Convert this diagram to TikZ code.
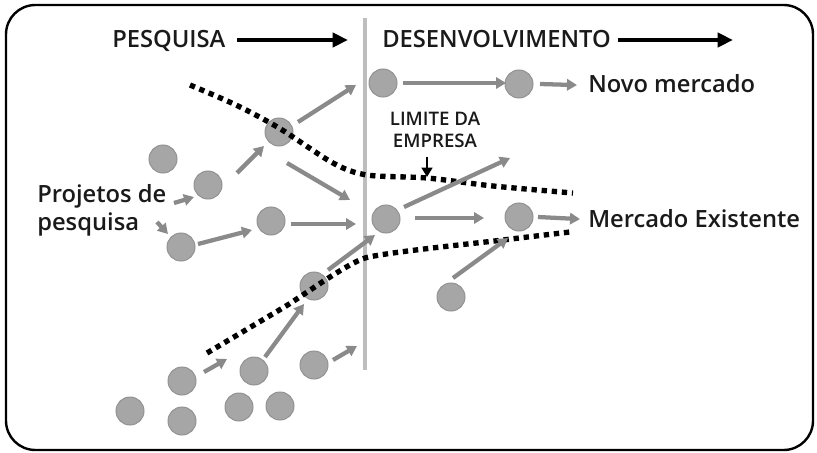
\documentclass[tikz,border=0pt]{standalone}
\usepackage{fontspec}
\setmainfont{Open Sans}
\IfFontExistsTF{Open Sans SemiBold}{\newfontfamily\sbf{Open Sans SemiBold}}{%
  \IfFontExistsTF{Open Sans Semibold}{\newfontfamily\sbf{Open Sans Semibold}}{%
    \newcommand\sbf{\bfseries}}}
\usetikzlibrary{arrows.meta,calc}
\definecolor{cfill}{HTML}{A6A6A6}
\definecolor{cdraw}{HTML}{929292}
\definecolor{garr}{HTML}{8A8A8A}
\definecolor{vline}{HTML}{BDBDBD}
\definecolor{txt}{HTML}{1A1A1A}
\begin{document}
\begin{tikzpicture}[x=0.75pt,y=-0.75pt,
  dot/.style={circle,fill=cfill,draw=cdraw,line width=0.75pt,minimum size=21pt,inner sep=0pt},
  garrow/.style={draw=garr,line width=3.2pt,-{Triangle[length=7.5pt,width=8.5pt]}},
  harrow/.style={draw=black,line width=3pt,-{Triangle[length=11.5pt,width=10.5pt]}},
  limit/.style={draw=black,line width=4pt,dash pattern=on 4pt off 3.6pt},
  bigtxt/.style={inner sep=0pt,anchor=base west,text=txt,font=\fontsize{17.8}{22}\selectfont\sbf},
  smalltxt/.style={inner sep=0pt,text=txt,font=\fontsize{14}{16}\selectfont\sbf,align=center}]
\useasboundingbox (0,0) rectangle (817,453);
% frame
\draw[line width=1.8pt,rounded corners=22pt] (6,5) rectangle (813,450);
% divider
\draw[vline,line width=2.3pt] (365,18) -- (365,370);
% headers
\node[bigtxt] (pes) at (112,48) {PESQUISA};
\node[bigtxt] (des) at (382,48) {DESENVOLVIMENTO};
\coordinate (h1a) at (237,40); \coordinate (h1b) at (348,40);
\coordinate (h2a) at (618,40); \coordinate (h2b) at (733,40);
\draw[harrow] (h1a) -- (h1b);
\draw[harrow] (h2a) -- (h2b);
% labels
\node[bigtxt] (novo) at (588,93) {Novo mercado};
\node[bigtxt] (merc) at (588,227) {Mercado Existente};
\node[bigtxt] (proj) at (37,202) {Projetos de};
\node[bigtxt] (pesq) at (37,230) {pesquisa};
\node[smalltxt,anchor=base] (lim1) at (435,125) {LIMITE DA};
\node[smalltxt,anchor=base] (lim2) at (435,147) {EMPRESA};
% circles
\node[dot] (c1) at (383,83) {};
\node[dot] (c2) at (279,132) {};
\node[dot] (c3) at (163,159) {};
\node[dot] (c4) at (208,185) {};
\node[dot] (c5) at (271,221) {};
\node[dot] (c6) at (386,219) {};
\node[dot] (c7) at (181,247) {};
\node[dot] (c8) at (314,286) {};
\node[dot] (c9) at (182,381) {};
\node[dot] (c10) at (254,371) {};
\node[dot] (c11) at (314,365) {};
\node[dot] (c12) at (130,411) {};
\node[dot] (c13) at (182,421) {};
\node[dot] (c14) at (239,407) {};
\node[dot] (c15) at (280,406) {};
\node[dot] (c16) at (519,84) {};
\node[dot] (c17) at (519,217) {};
\node[dot] (c18) at (451,297) {};
% dotted company limits
\draw[limit] plot[smooth,tension=0.5] coordinates {(190,85) (236,105) (279,128) (333,163) (367,175) (427,178) (493,186) (573,193)};
\draw[limit] plot[smooth,tension=0.3] coordinates {(207,353) (286,306) (365,258) (503,240) (570,232)};
% small black arrow
\coordinate (la) at (427,157);
\coordinate (lb) at (427,177);
\draw[draw=black,line width=2.2pt,-{Triangle[length=7pt,width=8pt]}] (la) -- (lb);
% free ends
\coordinate (f1) at (510,158);
\coordinate (f2) at (227,359);
\coordinate (f3) at (357,346);
\coordinate (p1) at (174,203);
\coordinate (p2) at (157,222);
% gray arrows
\draw[garrow] ($(c1)+(20,0)$) -- ($(c16)+(-13,-1)$);
\draw[garrow] ($(c16)+(21,0)$) -- ($(novo.west)+(-11,1)$);
\draw[garrow] ($(c6)+(29,-1)$) -- ($(c17)+(-35,1)$);
\draw[garrow] ($(c17)+(19,0)$) -- ($(merc.west)+(-8,1)$);
\draw[garrow] ($(c6)+(18,-12)$) -- (f1);
\draw[garrow] ($(c18)+(2,-19)$) -- ($(c17)+(-11,21)$);
\draw[garrow] ($(c2)+(19,-10)$) -- ($(c1)+(-27,2)$);
\draw[garrow] ($(c2)+(8,31)$) -- ($(c6)+(-36,-19)$);
\draw[garrow] ($(c5)+(20,3)$) -- ($(c6)+(-30,5)$);
\draw[garrow] ($(c4)+(29,-12)$) -- ($(c2)+(-15,14)$);
\draw[garrow] (p1) -- ($(c4)+(-14,12)$);
\draw[garrow] (p2) -- ($(c7)+(-13,-13)$);
\draw[garrow] ($(c7)+(17,-3)$) -- ($(c5)+(-19,9)$);
\draw[garrow] ($(c8)+(14,-16)$) -- ($(c6)+(-11,16)$);
\draw[garrow] ($(c10)+(11,-14)$) -- ($(c8)+(-10,18)$);
\draw[garrow] ($(c9)+(22,-9)$) -- (f2);
\draw[garrow] ($(c11)+(19,-5)$) -- (f3);
\end{tikzpicture}
\end{document}
